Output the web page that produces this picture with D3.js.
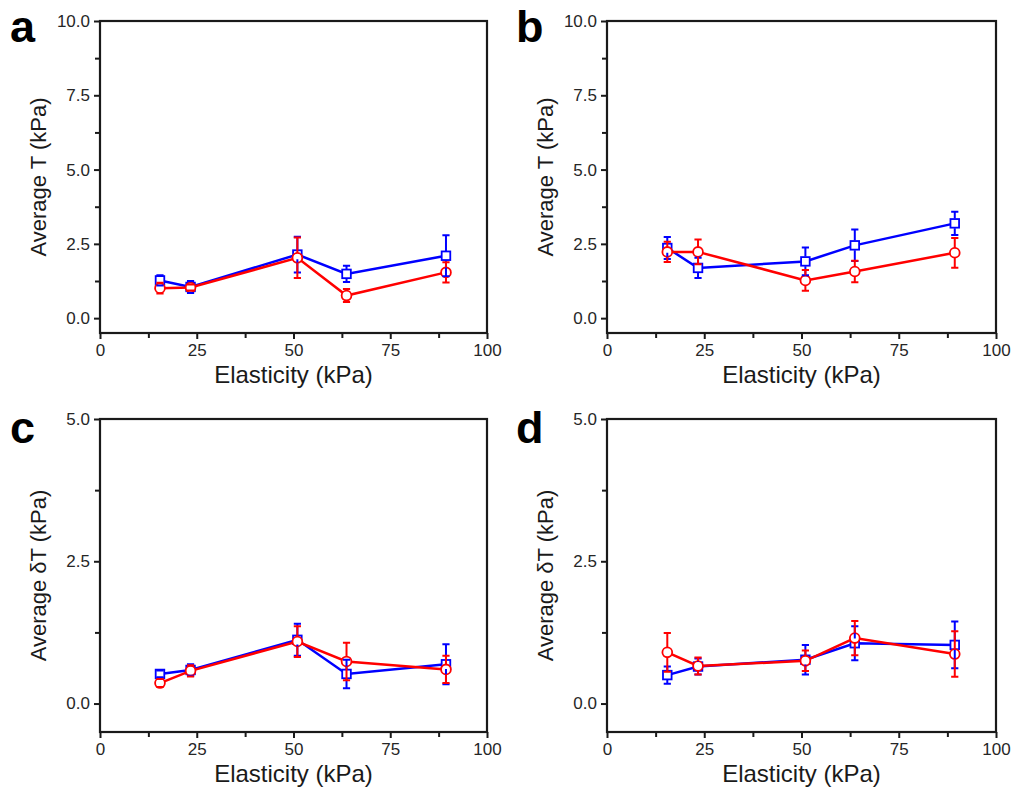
<!DOCTYPE html>
<html>
<head>
<meta charset="utf-8">
<script src="https://cdn.jsdelivr.net/npm/d3@7"></script>
<style>
  body { margin: 0; background: #fff; }
  svg { display: block; font-family: "Liberation Sans", Arial, sans-serif; }
</style>
</head>
<body>
<div id="chart"></div>
<script>
// elasticity of the substrates (kPa), shared by every panel
var elasticity = [15.5, 23.4, 51.0, 63.7, 89.4];

// panel a
var aBlue = [1.27, 1.05, 2.14, 1.49, 2.10];
var aBlueErr = [0.17, 0.20, 0.60, 0.27, 0.69];
var aRed = [1.01, 1.03, 2.03, 0.76, 1.54];
var aRedErr = [0.18, 0.10, 0.68, 0.22, 0.34];

// panel b
var bBlue = [2.36, 1.69, 1.91, 2.45, 3.19];
var bBlueErr = [0.37, 0.34, 0.47, 0.53, 0.39];
var bRed = [2.23, 2.23, 1.27, 1.57, 2.20];
var bRedErr = [0.34, 0.42, 0.35, 0.36, 0.50];

// panel c
var cBlue = [0.52, 0.59, 1.12, 0.52, 0.69];
var cBlueErr = [0.06, 0.10, 0.28, 0.25, 0.35];
var cRed = [0.36, 0.575, 1.09, 0.74, 0.60];
var cRedErr = [0.07, 0.10, 0.27, 0.33, 0.24];

// panel d
var dBlue = [0.50, 0.65, 0.77, 1.06, 1.03];
var dBlueErr = [0.15, 0.14, 0.26, 0.30, 0.41];
var dRed = [0.90, 0.66, 0.75, 1.15, 0.87];
var dRedErr = [0.34, 0.15, 0.18, 0.30, 0.40];

// axis ticks
var xMajor = [0, 25, 50, 75, 100];
var xMinor = [12.5, 37.5, 62.5, 87.5];
var yMajorT = [0, 2.5, 5, 7.5, 10];
var yMinorT = [1.25, 3.75, 6.25, 8.75];
var yMajorDT = [0, 2.5, 5];
var yMinorDT = [1.25, 3.75];

var BLUE = "#0000ff", RED = "#ff0000";

var panels = [
    { letter: "a", ylabel: "Average T (kPa)", ymax: 10, yMajor: yMajorT, yMinor: yMinorT,
      blue: aBlue, blueErr: aBlueErr, red: aRed, redErr: aRedErr,
      box: { left: 100, right: 487, top: 21, bottom: 333 }, lx: 10, ly: 42, tx: 46 },
    { letter: "b", ylabel: "Average T (kPa)", ymax: 10, yMajor: yMajorT, yMinor: yMinorT,
      blue: bBlue, blueErr: bBlueErr, red: bRed, redErr: bRedErr,
      box: { left: 607, right: 996, top: 21, bottom: 333 }, lx: 516, ly: 42, tx: 553 },
    { letter: "c", ylabel: "Average \u03b4T (kPa)", ymax: 5, yMajor: yMajorDT, yMinor: yMinorDT,
      blue: cBlue, blueErr: cBlueErr, red: cRed, redErr: cRedErr,
      box: { left: 100, right: 487, top: 419, bottom: 732 }, lx: 10, ly: 443, tx: 46 },
    { letter: "d", ylabel: "Average \u03b4T (kPa)", ymax: 5, yMajor: yMajorDT, yMinor: yMinorDT,
      blue: dBlue, blueErr: dBlueErr, red: dRed, redErr: dRedErr,
      box: { left: 607, right: 996, top: 419, bottom: 732 }, lx: 516, ly: 443, tx: 553 }
];

var svg = d3.select("#chart").append("svg")
    .attr("width", 1016)
    .attr("height", 792);

svg.append("rect").attr("width", 1016).attr("height", 792).attr("fill", "#fff");

function drawPanel(p) {
    var b = p.box;
    var x = d3.scaleLinear().domain([0, 100]).range([b.left, b.right]);
    var y = d3.scaleLinear().domain([-0.5, p.ymax]).range([b.bottom, b.top]);
    var g = svg.append("g").attr("class", "panel-" + p.letter);

    // minor ticks first, no labels
    g.append("g").attr("transform", "translate(0," + b.bottom + ")")
        .call(d3.axisBottom(x).tickValues(xMinor).tickSize(5).tickFormat(""))
        .call(styleAxis);
    g.append("g").attr("transform", "translate(" + b.left + ",0)")
        .call(d3.axisLeft(y).tickValues(p.yMinor).tickSize(5).tickFormat(""))
        .call(styleAxis);

    g.append("g").attr("transform", "translate(0," + b.bottom + ")")
        .call(d3.axisBottom(x).tickValues(xMajor).tickSize(6).tickPadding(5).tickFormat(d3.format("d")))
        .call(styleAxis);
    g.append("g").attr("transform", "translate(" + b.left + ",0)")
        .call(d3.axisLeft(y).tickValues(p.yMajor).tickSize(6).tickPadding(4).tickFormat(d3.format(".1f")))
        .call(styleAxis);

    // frame
    g.append("rect")
        .attr("x", b.left).attr("y", b.top)
        .attr("width", b.right - b.left).attr("height", b.bottom - b.top)
        .attr("fill", "none").attr("stroke", "#1a1a1a").attr("stroke-width", 2.2);

    var series = [
        { vals: p.blue, err: p.blueErr, color: BLUE, shape: "square" },
        { vals: p.red, err: p.redErr, color: RED, shape: "circle" }
    ];

    var line = d3.line()
        .x(function (d, i) { return x(elasticity[i]); })
        .y(function (d) { return y(d); });

    series.forEach(function (s) {
        g.append("path").datum(s.vals)
            .attr("d", line)
            .attr("fill", "none")
            .attr("stroke", s.color)
            .attr("stroke-width", 2.5);

        var sym = g.append("g").selectAll(".sym").data(s.vals).enter();
        if (s.shape === "square") {
            sym.append("rect")
                .attr("x", function (d, i) { return x(elasticity[i]) - 4.3; })
                .attr("y", function (d) { return y(d) - 4.3; })
                .attr("width", 8.6).attr("height", 8.6)
                .attr("fill", "#fff").attr("stroke", s.color).attr("stroke-width", 1.8);
        } else {
            sym.append("circle")
                .attr("cx", function (d, i) { return x(elasticity[i]); })
                .attr("cy", function (d) { return y(d); })
                .attr("r", 4.9)
                .attr("fill", "#fff").attr("stroke", s.color).attr("stroke-width", 1.8);
        }
    });

    // error bars on top, leaving a gap inside each series' own symbol
    var gap = 4.8, cap = 3.6;
    series.forEach(function (s) {
        var eg = g.append("g").attr("stroke", s.color).attr("stroke-width", 2).attr("fill", "none");
        s.vals.forEach(function (v, i) {
            var cx = x(elasticity[i]);
            var cy = y(v);
            var yt = y(v + s.err[i]);
            var yb = y(v - s.err[i]);
            var d = "";
            if (cy - yt > gap) d += "M" + cx + "," + yt + "V" + (cy - gap);
            if (yb - cy > gap) d += "M" + cx + "," + (cy + gap) + "V" + yb;
            d += "M" + (cx - cap) + "," + yt + "H" + (cx + cap);
            d += "M" + (cx - cap) + "," + yb + "H" + (cx + cap);
            eg.append("path").attr("d", d);
        });
    });

    // axis titles
    g.append("text")
        .attr("x", (b.left + b.right) / 2)
        .attr("y", b.bottom + 50)
        .attr("text-anchor", "middle")
        .attr("font-size", 24)
        .attr("fill", "#1a1a1a")
        .text("Elasticity (kPa)");

    g.append("text")
        .attr("transform", "translate(" + p.tx + "," + (b.top + b.bottom) / 2 + ") rotate(-90)")
        .attr("text-anchor", "middle")
        .attr("font-size", 22)
        .attr("fill", "#1a1a1a")
        .text(p.ylabel);

    // panel letter
    g.append("text")
        .attr("x", p.lx).attr("y", p.ly)
        .attr("font-size", 45)
        .attr("font-weight", "bold")
        .attr("fill", "#000")
        .text(p.letter);
}

function styleAxis(sel) {
    sel.select(".domain").remove();
    sel.selectAll(".tick line").attr("stroke", "#1a1a1a").attr("stroke-width", 2);
    sel.selectAll(".tick text")
        .attr("font-size", 17)
        .attr("font-family", "\"Liberation Sans\", Arial, sans-serif")
        .attr("fill", "#262626");
}

panels.forEach(drawPanel);
</script>
</body>
</html>
